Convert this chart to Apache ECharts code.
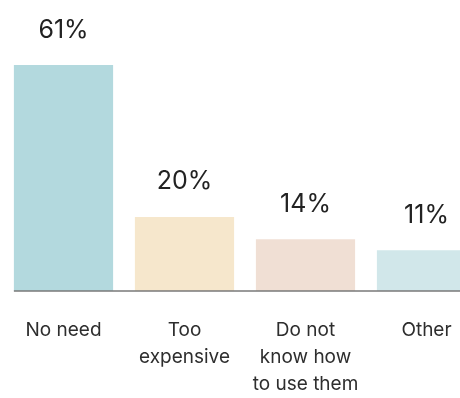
<!DOCTYPE html>
<html>
<head>
<meta charset="utf-8">
<script src="https://cdn.jsdelivr.net/npm/echarts@6/dist/echarts.min.js"></script>
<style>
  html, body { margin: 0; padding: 0; background: #ffffff; }
  #chart { width: 460px; height: 398px; }
</style>
</head>
<body>
<div id="chart"></div>
<script>
// Reasons given, share of respondents (%)
const categories = ['No need', 'Too\nexpensive', 'Do not\nknow how\nto use them', 'Other'];
const shares = [61, 20, 14, 11];
const barColors = ['#b3d9de', '#f6e7cc', '#f0dfd4', '#d1e7ea'];

const chart = echarts.init(document.getElementById('chart'), null, { renderer: 'canvas' });

const option = {
  animation: false,
  backgroundColor: '#ffffff',
  // the plot area runs past the right edge, so the last bar is cut off
  grid: {
    left: 3, width: 484, top: 65, bottom: 107,
    containLabel: false,
    outerBoundsMode: 'none'
  },
  xAxis: {
    type: 'category',
    data: categories,
    axisLine: { show: false },
    axisTick: { show: false },
    axisLabel: {
      interval: 0,
      margin: 26,
      color: '#2e2e2e',
      fontFamily: 'Inter, "Noto Sans", sans-serif',
      fontSize: 19,
      lineHeight: 27,
      align: 'center'
    }
  },
  yAxis: {
    type: 'value',
    min: 0,
    max: 'dataMax',
    show: false,
    splitLine: { show: false }
  },
  series: [{
    type: 'bar',
    data: shares.map((v, i) => ({ value: v, itemStyle: { color: barColors[i] } })),
    barCategoryGap: '18%',
    label: {
      show: true,
      position: 'top',
      distance: 22,
      formatter: p => p.value + '%',
      color: '#222222',
      fontFamily: 'Inter, "Noto Sans", sans-serif',
      fontSize: 25,
      lineHeight: 26
    }
  }]
};

chart.setOption(option);

// Baseline: runs from the left edge of the first bar to the right edge of the page
const zeroY = chart.convertToPixel({ yAxisIndex: 0 }, 0);
const firstCenter = chart.convertToPixel({ xAxisIndex: 0 }, 0);
const secondCenter = chart.convertToPixel({ xAxisIndex: 0 }, 1);
const band = secondCenter - firstCenter;
const barW = band * (1 - 0.18);
const x0 = firstCenter - barW / 2;
chart.setOption({
  graphic: [{
    type: 'line',
    z: 100,
    shape: { x1: x0, y1: zeroY, x2: chart.getWidth(), y2: zeroY },
    style: { stroke: 'rgba(120,120,120,0.75)', lineWidth: 2 }
  }]
});
</script>
</body>
</html>
